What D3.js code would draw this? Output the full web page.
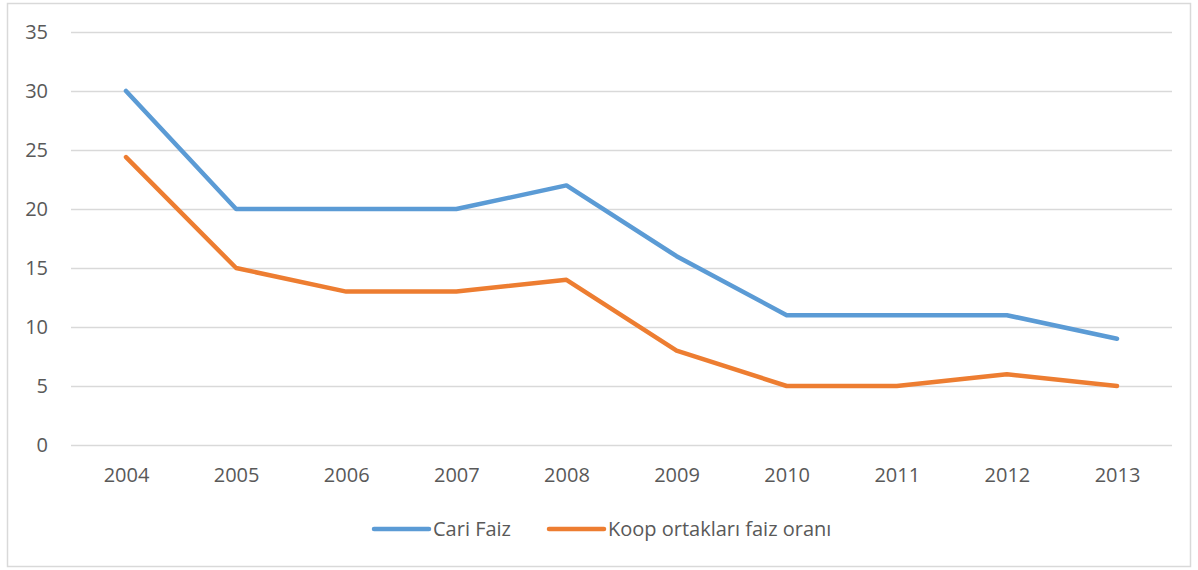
<!DOCTYPE html>
<html><head><meta charset="utf-8">
<script src="https://cdn.jsdelivr.net/npm/d3@7"></script>
<style>body{margin:0;background:#fff}svg{display:block}</style>
</head><body>
<svg id="c" width="1198" height="570"></svg>
<script>
const years = ["2004","2005","2006","2007","2008","2009","2010","2011","2012","2013"];
const cariFaiz = [30,20,20,20,22,16,11,11,11,9];
const koopFaiz = [24.4,15,13,13,14,8,5,5,6,5];
const yTicks = [0,5,10,15,20,25,30,35];
const seriesNames = ["Cari Faiz","Koop ortakları faiz oranı"];
const colors = ["#5B9BD5","#ED7D31"];

const svg = d3.select("#c");
const font = "'Open Sans', 'Noto Sans', sans-serif";
const fs = "20px";
svg.append("rect").attr("x",7.5).attr("y",3.5).attr("width",1183).attr("height",563)
  .attr("fill","#fff").attr("stroke","#D9D9D9").attr("stroke-width",1.5);

const x = d3.scalePoint().domain(years).range([126,1117]);
const y = d3.scaleLinear().domain([0,35]).range([445,32]);

const gy = svg.append("g").attr("transform","translate(71,0)")
  .call(d3.axisLeft(y).tickValues(yTicks).tickSize(-1101).tickPadding(23));
gy.select(".domain").remove();
gy.selectAll(".tick line").attr("stroke","#D9D9D9").attr("stroke-width",1.3);
gy.selectAll(".tick text").attr("fill","#595959").style("font-family",font).style("font-size",fs);

const gx = svg.append("g").attr("transform","translate(0,445)")
  .call(d3.axisBottom(x).tickSize(0).tickPadding(23));
gx.select(".domain").remove();
gx.selectAll(".tick text").attr("fill","#595959").style("font-family",font).style("font-size",fs);

const line = d3.line().x((d,i)=>x(years[i])).y(d=>y(d));
[cariFaiz,koopFaiz].forEach((s,k)=>{
  svg.append("path").datum(s).attr("d",line).attr("fill","none")
    .attr("stroke",colors[k]).attr("stroke-width",4.5)
    .attr("stroke-linecap","round").attr("stroke-linejoin","round");
});

const legX = [374,549];
seriesNames.forEach((n,k)=>{
  const g = svg.append("g").attr("transform",`translate(${legX[k]},529)`);
  g.append("line").attr("x1",0).attr("x2",55).attr("y1",0).attr("y2",0)
    .attr("stroke",colors[k]).attr("stroke-width",4.5).attr("stroke-linecap","round");
  g.append("text").attr("x",59).attr("y",7).text(n).attr("fill","#595959")
    .style("font-family",font).style("font-size",fs);
});
</script>
</body></html>
